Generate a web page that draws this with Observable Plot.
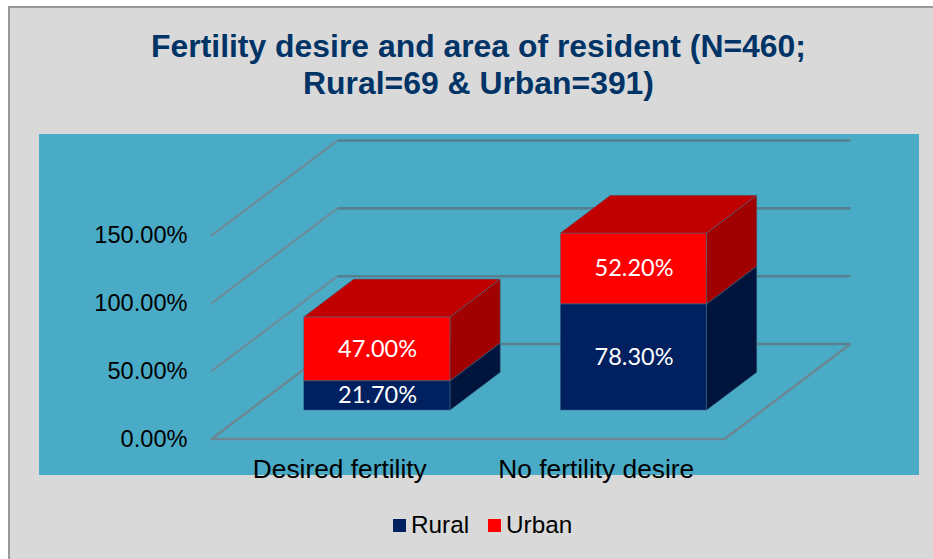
<!DOCTYPE html>
<html>
<head>
<meta charset="utf-8">
<script src="https://cdn.jsdelivr.net/npm/d3@7"></script>
<script src="https://cdn.jsdelivr.net/npm/@observablehq/plot@0.6"></script>
<style>
html,body{margin:0;padding:0;background:#fff;width:933px;height:559px;overflow:hidden}
#page{position:relative;width:933px;height:559px;overflow:hidden}
#sheet{position:absolute;left:8px;top:6px;width:930px;height:560px;background:#d9d9d9;border:2px solid #999;box-sizing:border-box}
#panel{position:absolute;left:39px;top:134px;width:880px;height:341px;background:#4aabc6}
#title{position:absolute;left:0;top:28px;width:957px;text-align:center;font:bold 31.9px/37px "Liberation Sans",Arial,sans-serif;color:#003366}
#chart{position:absolute;left:0;top:134px}
#legend{position:absolute;top:511px;left:393px;height:28px;font:24.3px/28px "Liberation Sans",Arial,sans-serif;color:#000;white-space:nowrap}
#legend i{position:absolute;top:8px;width:13px;height:13px}
#legend span{position:absolute;top:0}
</style>
</head>
<body>
<div id="page">
  <div id="sheet"></div>
  <div id="panel"></div>
  <div id="title">Fertility desire and area of resident (N=460;<br>Rural=69 &amp; Urban=391)</div>
  <div id="chart"></div>
  <div id="legend"><i style="left:0;background:#002060"></i><span style="left:18px">Rural</span><i style="left:95px;background:#ff0000"></i><span style="left:113px">Urban</span></div>
</div>
<script>
const categories = ["Desired fertility", "No fertility desire"];
const rural = [21.7, 78.3];
const urban = [47.0, 52.2];
const yTicks = [0, 50, 100, 150];

// Oblique projection of the 3D box: a unit of depth moves along x and along the value axis.
const depthX = 0.491, depthV = 70;
const barWidth = 0.571, depthFront = 0.30, depthBack = 0.697;

const font = '"Liberation Sans",Arial,sans-serif';
const edge = "#3a6f88";

const series = [
  {name: "Rural", values: rural, base: () => 0, front: "#002060", side: "#00143c", top: "#00143c"},
  {name: "Urban", values: urban, base: i => rural[i], front: "#ff0000", side: "#a00000", top: "#c00000"}
];

const catPos = categories.map((_, i) => i + 0.5);

const diag = yTicks.filter(v => v > 0).flatMap(v => [
  {x: 0, y: v, k: v}, {x: depthX, y: v + depthV, k: v}
]);
const back = yTicks.flatMap(v => [
  {x: depthX, y: v + depthV, k: v}, {x: 2 + depthX, y: v + depthV, k: v}
]);
const floor = [
  {x: depthX, y: depthV}, {x: 0, y: 0}, {x: 2, y: 0}, {x: 2 + depthX, y: depthV}
];

const marks = [
  Plot.line(diag, {x: "x", y: "y", z: "k", stroke: "#6b8d99", strokeWidth: 2.3, strokeLinecap: "butt"}),
  Plot.line(back, {x: "x", y: "y", z: "k", stroke: "#55808f", strokeWidth: 2.6, strokeLinecap: "butt"}),
  Plot.line(floor, {x: "x", y: "y", stroke: "#6b8791", strokeWidth: 2.4, strokeLinecap: "butt"})
];

for (const s of series) {
  const rows = s.values.map((v, i) => {
    const lo = s.base(i), hi = lo + v;
    const left = catPos[i] - barWidth / 2, right = catPos[i] + barWidth / 2;
    return {i, v, lo, hi, left, right};
  });
  const sideRows = rows.flatMap(r => [depthFront, depthBack].map(d => ({
    i: r.i, x: r.right + depthX * d, y1: r.lo + depthV * d, y2: r.hi + depthV * d
  })));
  const topRows = rows.flatMap(r => [depthFront, depthBack].map(d => ({
    i: r.i, y: r.hi + depthV * d, x1: r.left + depthX * d, x2: r.right + depthX * d
  })));
  marks.push(
    Plot.rect(rows, {
      x1: r => r.left + depthX * depthFront, x2: r => r.right + depthX * depthFront,
      y1: r => r.lo + depthV * depthFront, y2: r => r.hi + depthV * depthFront,
      fill: s.front, stroke: edge, strokeWidth: 0.5, inset: 0
    }),
    Plot.areaY(sideRows, {x: "x", y1: "y1", y2: "y2", z: "i", fill: s.side, stroke: edge, strokeWidth: 0.5}),
    Plot.areaX(topRows, {y: "y", x1: "x1", x2: "x2", z: "i", fill: s.top, stroke: edge, strokeWidth: 0.5})
  );
}

for (const s of series) {
  marks.push(Plot.text(s.values.map((v, i) => ({
    v, x: catPos[i] + depthX * depthFront, y: s.base(i) + v / 2 + depthV * depthFront
  })), {
    x: "x", y: "y", text: d => d.v.toFixed(2) + "%", fill: "#fff",
    fontFamily: "Lato,'Noto Sans',sans-serif", fontSize: 23.5
  }));
}

marks.push(
  Plot.axisY({ticks: yTicks, tickFormat: d => d.toFixed(2) + "%", tickSize: 0, tickPadding: 24,
    label: null, fontSize: 23.6, fontFamily: font, fill: "#000"}),
  Plot.axisX({ticks: catPos, tickFormat: d => categories[d - 0.5], tickSize: 0, tickPadding: 20,
    label: null, fontSize: 26.3, fontFamily: font, fill: "#000"})
);

const plot = Plot.plot({
  width: 933,
  height: 360,
  marginLeft: 211,
  marginRight: 209,
  marginTop: 101,
  marginBottom: 55.5,
  x: {domain: [0, 2]},
  y: {domain: [0, 150]},
  style: {background: "transparent", overflow: "visible"},
  marks
});
document.getElementById("chart").appendChild(plot);
</script>
</body>
</html>
